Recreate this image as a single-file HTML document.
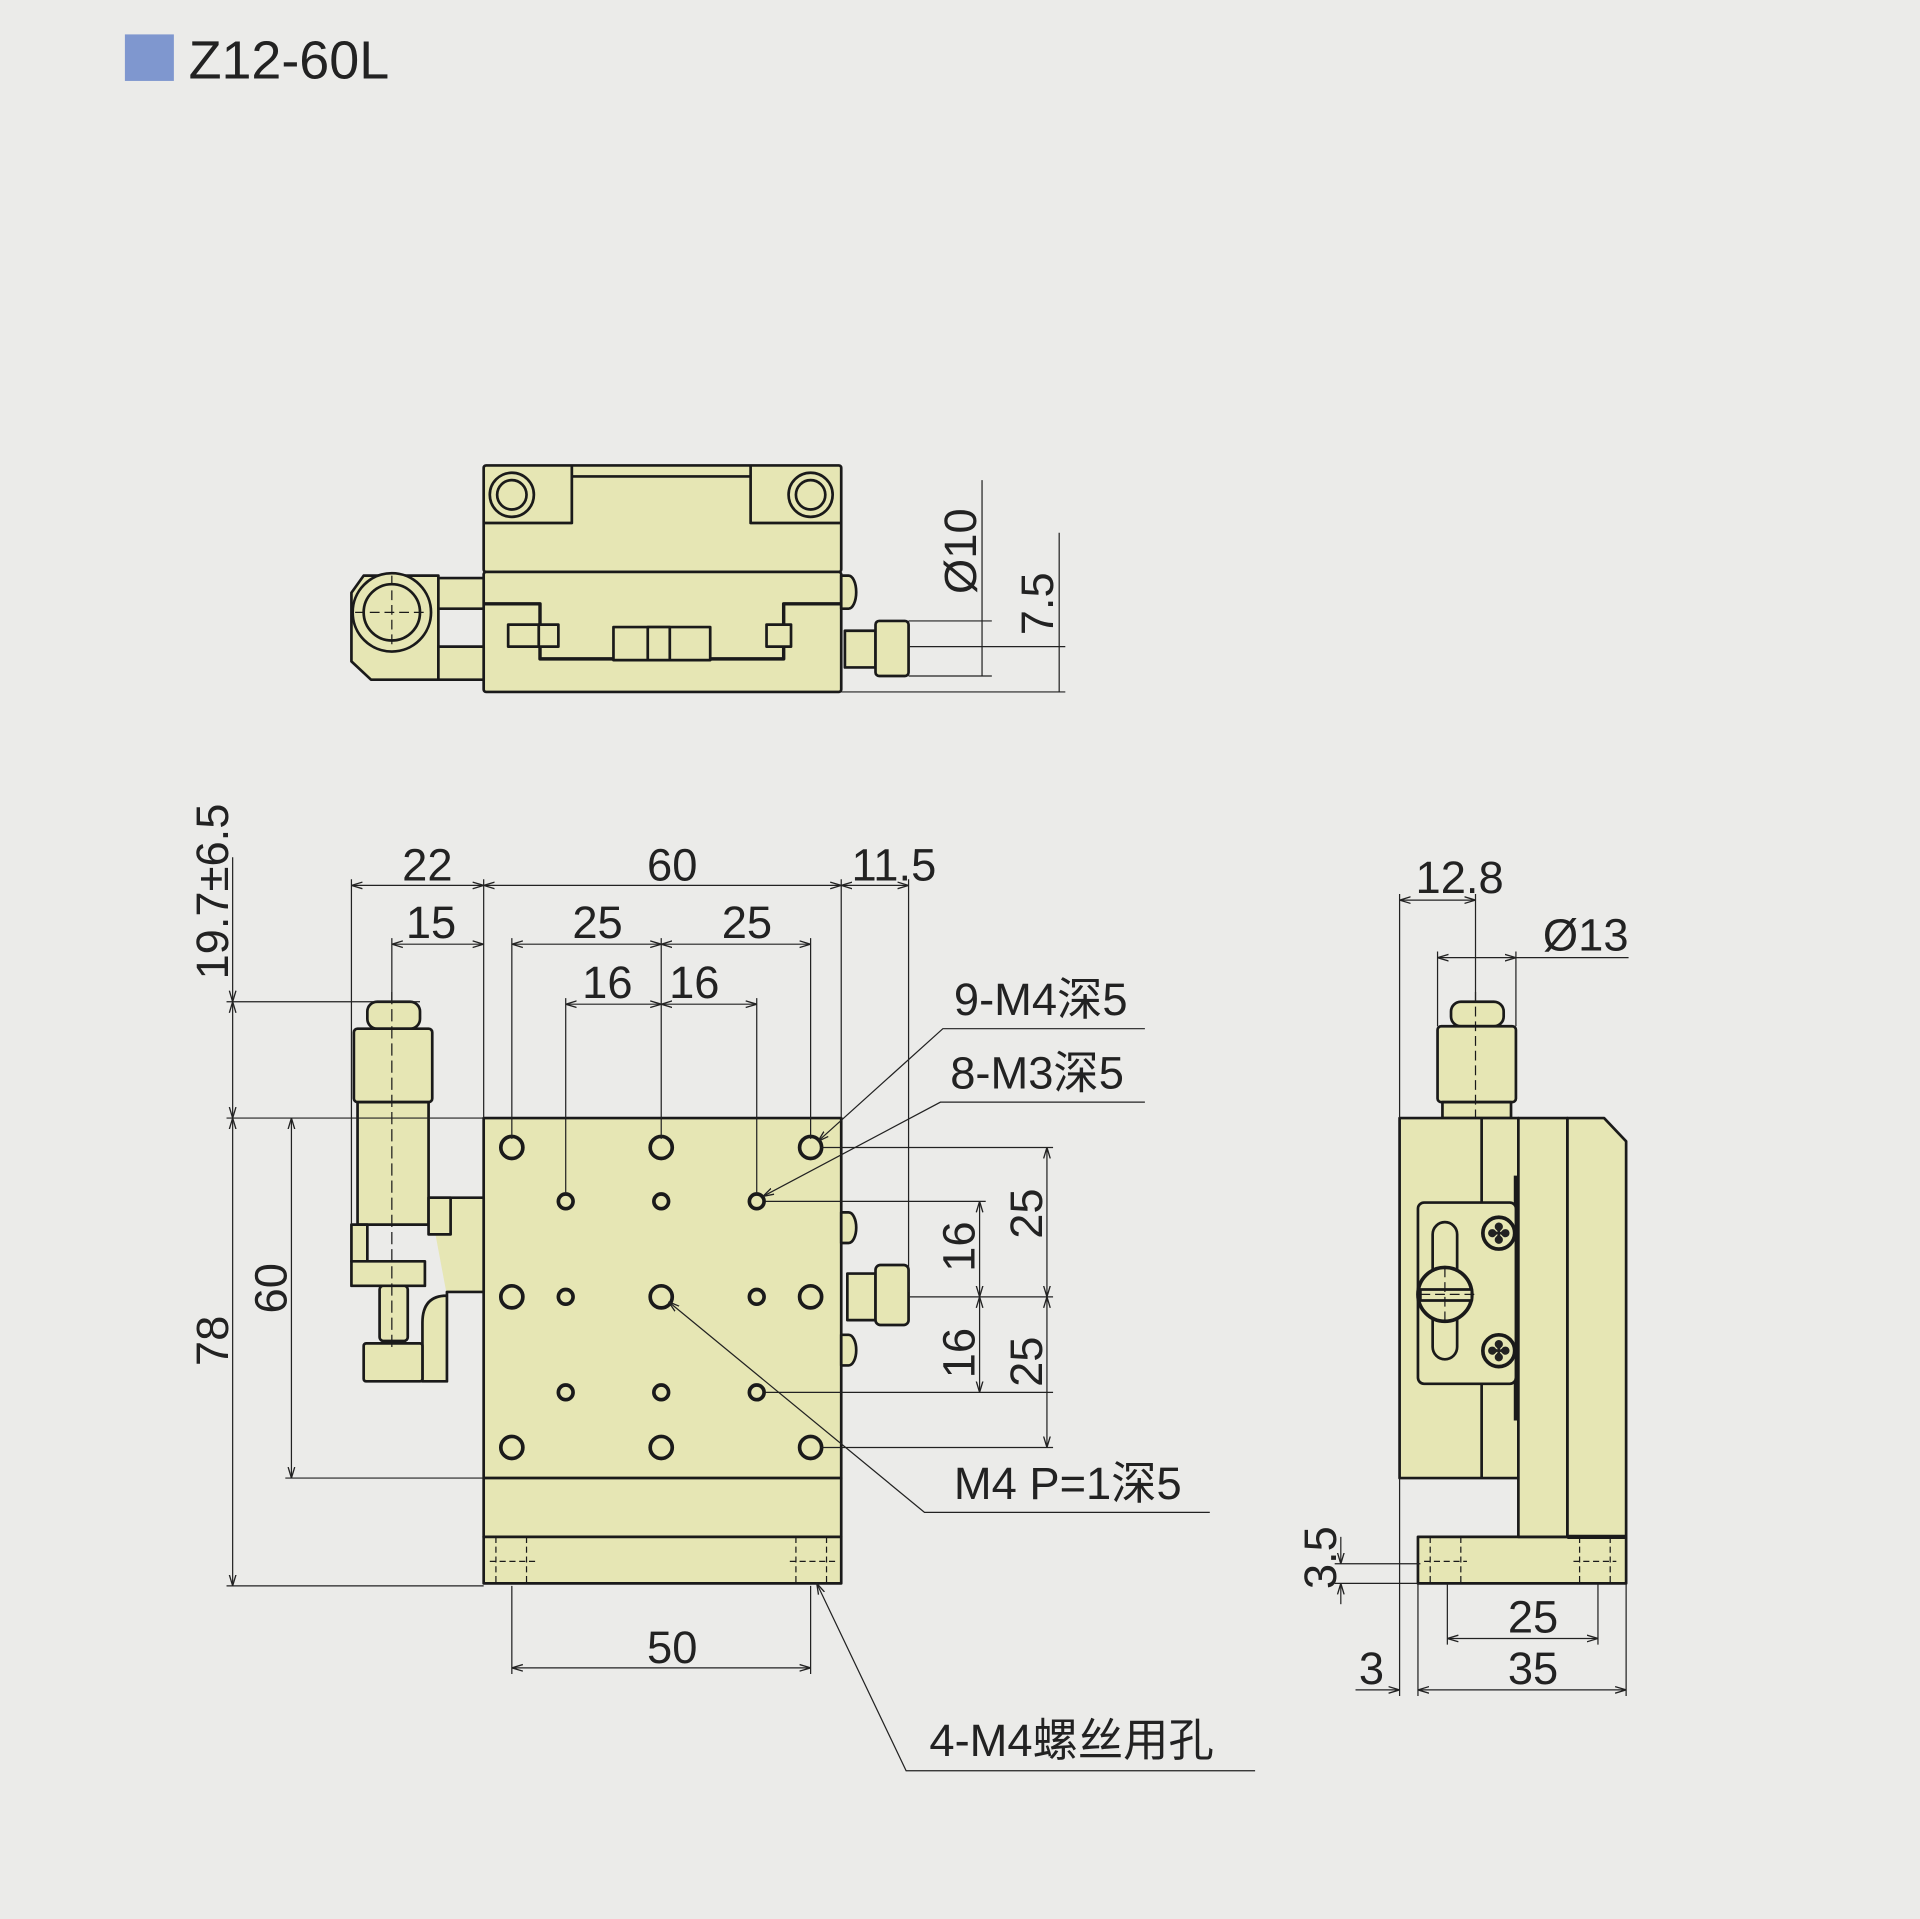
<!DOCTYPE html>
<html><head><meta charset="utf-8"><style>
html,body{margin:0;padding:0;background:#ebebe9;}
svg{display:block}
text{font-family:"Liberation Sans","Noto Sans CJK SC",sans-serif;fill:#222}
</style></head><body>
<svg width="1920" height="1919" viewBox="0 0 1568 1567" xmlns="http://www.w3.org/2000/svg">
<defs>
<marker id="a" viewBox="0 0 10 10" refX="10" refY="5" markerWidth="9" markerHeight="9" orient="auto-start-reverse"><path d="M0,2 L10,5 L0,8" fill="none" stroke="#222" stroke-width="1.2"/></marker>
</defs>
<rect width="1568" height="1567" fill="#ebebe9"/>
<rect x="102" y="28" width="40" height="38" fill="#7f97cf"/>
<text x="154" y="64" font-size="44">Z12-60L</text>

<g stroke="#1a1a1a" stroke-width="2.2" fill="#e6e6b4" stroke-linejoin="round">
<!-- TOP VIEW -->
<rect x="395" y="380" width="292" height="87" rx="2"/>
<path d="M395,427 H467 V380 M613,380 V427 H687 M467,389 H613" fill="none"/>
<circle cx="418" cy="404" r="18"/><circle cx="418" cy="404" r="12"/>
<circle cx="662" cy="404" r="18"/><circle cx="662" cy="404" r="12"/>
<rect x="395" y="467" width="292" height="98" rx="2"/>
<path d="M395,493 H441 V538 H640 V493 H687" fill="none" stroke-width="2.8"/>
<rect x="501" y="512" width="79" height="27"/>
<rect x="529" y="512" width="18" height="27"/>
<rect x="415" y="510" width="25" height="18"/><rect x="440" y="510" width="16" height="18"/>
<rect x="626" y="510" width="20" height="18"/>
<path d="M687,470 h6 a6,13 0 0 1 0,27 h-6 z"/>
<rect x="690" y="515" width="25" height="30"/>
<rect x="715" y="507" width="27" height="45" rx="3"/>
<path d="M297,470 H358 V555 H303 L287,540 V484 Z"/>
<circle cx="320" cy="500" r="32"/><circle cx="320" cy="500" r="23"/>
<rect x="358" y="472" width="37" height="25"/><rect x="358" y="528" width="37" height="27"/>
<path d="M320,470 V530 M290,500 H350" stroke-width="1" stroke-dasharray="8,4" fill="none"/>

<!-- FRONT VIEW -->
<rect x="395" y="913" width="292" height="294"/>
<rect x="395" y="1207" width="292" height="48"/>
<rect x="395" y="1255" width="292" height="38"/>
<path d="M405,1255 V1293 M430,1255 V1293 M650,1255 V1293 M675,1255 V1293 M400,1275 H440 M645,1275 H685" stroke-width="1" stroke-dasharray="5,3" fill="none"/>
<!-- micrometer -->
<rect x="300" y="818" width="43" height="22" rx="8"/>
<rect x="289" y="840" width="64" height="60" rx="3"/>
<rect x="292" y="900" width="58" height="100"/>
<path d="M350,978 H395 V1055 H365 V1128 H345 V1080 Q345,1058 365,1058"/>
<rect x="350" y="978" width="18" height="30"/>
<rect x="287" y="1000" width="13" height="30"/>
<rect x="287" y="1030" width="60" height="20"/>
<rect x="310" y="1050" width="23" height="45" rx="3"/>
<rect x="297" y="1097" width="48" height="31" rx="2"/>
<path d="M320,810 V1100" stroke-width="1" stroke-dasharray="10,4" fill="none"/>
<!-- right knob -->
<path d="M687,990 h6 a6,12 0 0 1 0,25 h-6 z"/>
<path d="M687,1090 h6 a6,12 0 0 1 0,25 h-6 z"/>
<rect x="692" y="1040" width="23" height="38"/>
<rect x="715" y="1033" width="27" height="49" rx="4"/>
<!-- holes -->
<g fill="none" stroke-width="3">
<circle cx="418" cy="937" r="9"/><circle cx="540" cy="937" r="9"/><circle cx="662" cy="937" r="9"/>
<circle cx="418" cy="1059" r="9"/><circle cx="540" cy="1059" r="9"/><circle cx="662" cy="1059" r="9"/>
<circle cx="418" cy="1182" r="9"/><circle cx="540" cy="1182" r="9"/><circle cx="662" cy="1182" r="9"/>
<circle cx="462" cy="981" r="6"/><circle cx="540" cy="981" r="6"/><circle cx="618" cy="981" r="6"/>
<circle cx="462" cy="1059" r="6"/><circle cx="618" cy="1059" r="6"/>
<circle cx="462" cy="1137" r="6"/><circle cx="540" cy="1137" r="6"/><circle cx="618" cy="1137" r="6"/>
</g>

<!-- SIDE VIEW -->
<rect x="1185" y="818" width="43" height="20" rx="8"/>
<rect x="1174" y="838" width="64" height="62" rx="3"/>
<rect x="1178" y="900" width="56" height="13"/>
<rect x="1143" y="913" width="97" height="294"/>
<path d="M1210,913 V1207"/>
<path d="M1158,1255 H1280 V913 H1310 L1328,932 V1293 H1158 Z"/>
<rect x="1240" y="913" width="40" height="342"/>
<path d="M1280,1255 H1328 M1238,960 V1160" fill="none" stroke-width="3.5"/>
<rect x="1158" y="982" width="80" height="148" rx="5"/>
<rect x="1170" y="998" width="20" height="112" rx="10"/>
<circle cx="1180" cy="1057" r="22" stroke-width="3"/>
<rect x="1160" y="1053" width="42" height="9"/>
<circle cx="1224" cy="1007" r="13" stroke-width="3"/><circle cx="1224" cy="1103" r="13" stroke-width="3"/>
<path d="M1205,810 V913 M1160,1057 H1208 M1180,1035 V1080" stroke-width="1" stroke-dasharray="8,4" fill="none"/>
<path d="M1168,1255 V1293 M1193,1255 V1293 M1290,1255 V1293 M1315,1255 V1293 M1163,1275 H1198 M1285,1275 H1320" stroke-width="1" stroke-dasharray="5,3" fill="none"/>
</g>
<text x="1224" y="1015" font-size="22" font-weight="bold" text-anchor="middle">✤</text>
<text x="1224" y="1111" font-size="22" font-weight="bold" text-anchor="middle">✤</text>

<!-- DIMENSION LINES -->
<g stroke="#222" stroke-width="1" fill="none">
<path d="M802,392 V552 M865,435 V565 M742,507 H810 M742,552 H810 M687,565 H870 M742,528 H870"/>
<path d="M287,718 V1000 M395,718 V913 M687,718 V913 M742,718 V1055 M320,766 V818 M418,766 V930 M662,766 V930 M540,766 V930 M462,815 V975 M618,815 V975"/>
<path d="M287,723 H395" marker-start="url(#a)" marker-end="url(#a)"/>
<path d="M395,723 H687" marker-start="url(#a)" marker-end="url(#a)"/>
<path d="M687,723 H742" marker-start="url(#a)" marker-end="url(#a)"/>
<path d="M320,771 H395" marker-start="url(#a)" marker-end="url(#a)"/>
<path d="M418,771 H540" marker-start="url(#a)" marker-end="url(#a)"/>
<path d="M540,771 H662" marker-start="url(#a)" marker-end="url(#a)"/>
<path d="M462,820 H540" marker-start="url(#a)" marker-end="url(#a)"/>
<path d="M540,820 H618" marker-start="url(#a)" marker-end="url(#a)"/>
<path d="M185,818 H343 M185,913 H395 M185,1295 H395 M233,1207 H395"/>
<path d="M190,700 V818" marker-end="url(#a)"/>
<path d="M190,818 V913" marker-start="url(#a)" marker-end="url(#a)"/>
<path d="M190,913 V1295" marker-start="url(#a)" marker-end="url(#a)"/>
<path d="M238,913 V1207" marker-start="url(#a)" marker-end="url(#a)"/>
<path d="M670,937 H860 M625,981 H805 M742,1059 H860 M625,1137 H860 M670,1182 H860"/>
<path d="M855,937 V1059" marker-start="url(#a)" marker-end="url(#a)"/>
<path d="M855,1059 V1182" marker-start="url(#a)" marker-end="url(#a)"/>
<path d="M800,981 V1059" marker-start="url(#a)" marker-end="url(#a)"/>
<path d="M800,1059 V1137" marker-start="url(#a)" marker-end="url(#a)"/>
<path d="M935,840 H770 L668,932" marker-end="url(#a)"/>
<path d="M935,900 H768 L623,977" marker-end="url(#a)"/>
<path d="M988,1235 H755 L546,1063" marker-end="url(#a)"/>
<path d="M1025,1446 H740 L667,1293" marker-end="url(#a)"/>
<path d="M418,1295 V1367 M662,1295 V1367"/>
<path d="M418,1362 H662" marker-start="url(#a)" marker-end="url(#a)"/>
<path d="M1143,730 V913 M1205,730 V818 M1174,777 V838 M1238,777 V838"/>
<path d="M1143,735 H1205" marker-start="url(#a)" marker-end="url(#a)"/>
<path d="M1174,782 H1238" marker-start="url(#a)" marker-end="url(#a)"/>
<path d="M1238,782 H1330"/>
<path d="M1090,1277 H1160 M1090,1293 H1160"/>
<path d="M1095,1255 V1277" marker-end="url(#a)"/>
<path d="M1095,1310 V1293" marker-end="url(#a)"/>
<path d="M1158,1293 V1385 M1143,1207 V1385 M1182,1293 V1343 M1305,1293 V1343 M1328,1293 V1385"/>
<path d="M1182,1338 H1305" marker-start="url(#a)" marker-end="url(#a)"/>
<path d="M1158,1380 H1328" marker-start="url(#a)" marker-end="url(#a)"/>
<path d="M1107,1380 H1143" marker-end="url(#a)"/>
</g>

<!-- LABELS -->
<g font-size="37" text-anchor="middle">
<text x="349" y="719">22</text>
<text x="549" y="719">60</text>
<text x="730" y="719">11.5</text>
<text x="352" y="766">15</text>
<text x="488" y="766">25</text>
<text x="610" y="766">25</text>
<text x="496" y="815">16</text>
<text x="567" y="815">16</text>
<text x="549" y="1358">50</text>
<text x="1192" y="729">12.8</text>
<text x="1295" y="776">Ø13</text>
<text x="1252" y="1333">25</text>
<text x="1252" y="1375">35</text>
<text x="1120" y="1375">3</text>
<text transform="translate(797,450) rotate(-90)">Ø10</text>
<text transform="translate(860,493) rotate(-90)">7.5</text>
<text transform="translate(186,728) rotate(-90)">19.7±6.5</text>
<text transform="translate(186,1095) rotate(-90)">78</text>
<text transform="translate(234,1052) rotate(-90)">60</text>
<text transform="translate(851,991) rotate(-90)">25</text>
<text transform="translate(851,1112) rotate(-90)">25</text>
<text transform="translate(796,1018) rotate(-90)">16</text>
<text transform="translate(796,1105) rotate(-90)">16</text>
<text transform="translate(1091,1272) rotate(-90)">3.5</text>
</g>
<g font-size="37">
<text x="779" y="829">9-M4深5</text>
<text x="776" y="889">8-M3深5</text>
<text x="779" y="1224">M4 P=1深5</text>
<text x="759" y="1434">4-M4螺丝用孔</text>
</g>
</svg>
</body></html>
